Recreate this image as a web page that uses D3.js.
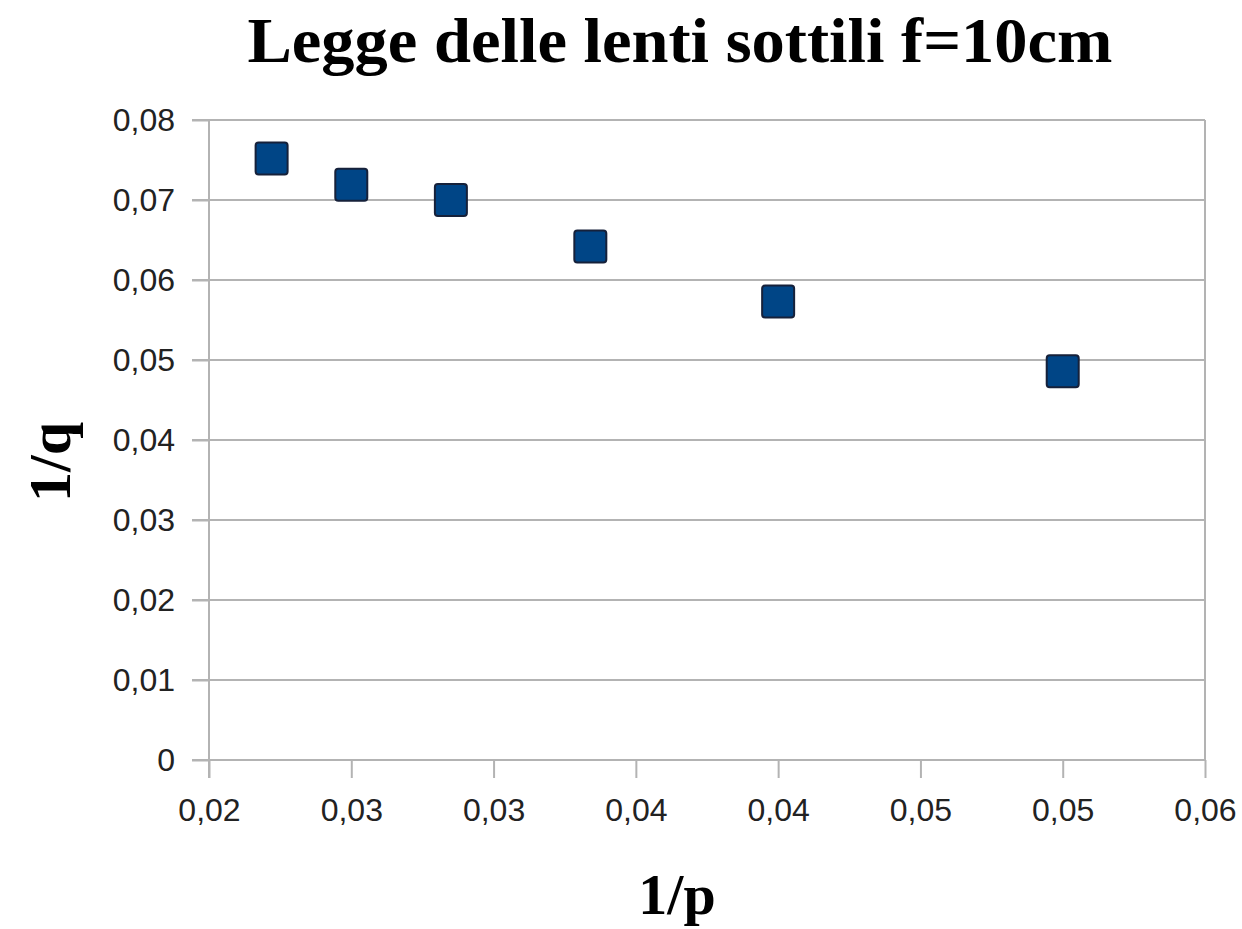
<!DOCTYPE html>
<html>
<head>
<meta charset="utf-8">
<script src="https://cdn.jsdelivr.net/npm/d3@7"></script>
<style>
  body { margin: 0; background: #fff; }
  .axis path, .axis line { stroke: #b3b3b3; stroke-width: 2px; }
  .axis text { font-family: 'Liberation Sans', Arial, sans-serif; font-size: 32px; fill: #222; }
</style>
</head>
<body>
<div id="chart"></div>
<script>
// measured values (1/p, 1/q)
const invP = [0.0222, 0.0250, 0.0285, 0.0334, 0.0400, 0.0500];
const invQ = [0.0752, 0.0719, 0.0700, 0.0642, 0.0573, 0.0486];
const xTicks = [0.02, 0.025, 0.03, 0.035, 0.04, 0.045, 0.05, 0.055];
const yTicks = [0, 0.01, 0.02, 0.03, 0.04, 0.05, 0.06, 0.07, 0.08];

const W = 1242, H = 929;
const margin = {top: 120, right: 37, bottom: 169, left: 209};
const width = W - margin.left - margin.right;
const height = H - margin.top - margin.bottom;

const svg = d3.select('#chart').append('svg')
  .attr('width', W)
  .attr('height', H);

const g = svg.append('g')
  .attr('transform', 'translate(' + margin.left + ',' + margin.top + ')');

const x = d3.scaleLinear().domain([0.02, 0.055]).range([0, width]);
const y = d3.scaleLinear().domain([0, 0.08]).range([height, 0]);

// labels are rounded to 2 decimals with comma, like the spreadsheet does
const fmt = function(d) {
  return (Math.round(d * 100 + 1e-9) / 100).toFixed(2).replace('.', ',');
};
const fmtY = function(d) { return d === 0 ? '0' : d.toFixed(2).replace('.', ','); };

// horizontal grid
g.append('g')
  .selectAll('line')
  .data(yTicks)
  .enter().append('line')
  .attr('x1', -17)
  .attr('x2', width)
  .attr('y1', d => y(d))
  .attr('y2', d => y(d))
  .attr('stroke', '#b3b3b3')
  .attr('stroke-width', 2);

// right border
g.append('line')
  .attr('x1', width).attr('x2', width)
  .attr('y1', 0).attr('y2', height)
  .attr('stroke', '#b3b3b3').attr('stroke-width', 2);

// X axis
const xAxis = d3.axisBottom(x)
  .tickValues(xTicks)
  .tickFormat(fmt)
  .tickSize(18)
  .tickPadding(20);

const xg = g.append('g')
  .attr('class', 'axis')
  .attr('transform', 'translate(0,' + height + ')')
  .call(xAxis);
xg.select('.domain').remove();

// Y axis
const yAxis = d3.axisLeft(y)
  .tickValues(yTicks)
  .tickFormat(fmtY)
  .tickSize(17)
  .tickPadding(17);

const yg = g.append('g')
  .attr('class', 'axis')
  .call(yAxis);
yg.select('.domain').remove();

g.append('line')
  .attr('x1', 0).attr('x2', 0)
  .attr('y1', 0).attr('y2', height + 18)
  .attr('stroke', '#b3b3b3').attr('stroke-width', 2);

// points
const pts = invP.map((p, i) => ({p: p, q: invQ[i]}));
const s = 32;
g.selectAll('rect.pt')
  .data(pts)
  .enter().append('rect')
  .attr('class', 'pt')
  .attr('x', d => x(d.p) - s / 2)
  .attr('y', d => y(d.q) - s / 2)
  .attr('width', s)
  .attr('height', s)
  .attr('rx', 3)
  .attr('fill', '#004586')
  .attr('stroke', '#16213a')
  .attr('stroke-width', 2);

// title and axis labels
const serif = "'Liberation Serif', 'Times New Roman', serif";

svg.append('text')
  .attr('x', 680)
  .attr('y', 62)
  .attr('text-anchor', 'middle')
  .attr('textLength', 865)
  .attr('lengthAdjust', 'spacingAndGlyphs')
  .style('font-family', serif)
  .style('font-weight', 'bold')
  .style('font-size', '63px')
  .text('Legge delle lenti sottili f=10cm');

svg.append('text')
  .attr('x', 677)
  .attr('y', 914)
  .attr('text-anchor', 'middle')
  .style('font-family', serif)
  .style('font-weight', 'bold')
  .style('font-size', '58px')
  .text('1/p');

svg.append('text')
  .attr('transform', 'translate(70,462) rotate(-90)')
  .attr('text-anchor', 'middle')
  .style('font-family', serif)
  .style('font-weight', 'bold')
  .style('font-size', '60px')
  .text('1/q');
</script>
</body>
</html>
